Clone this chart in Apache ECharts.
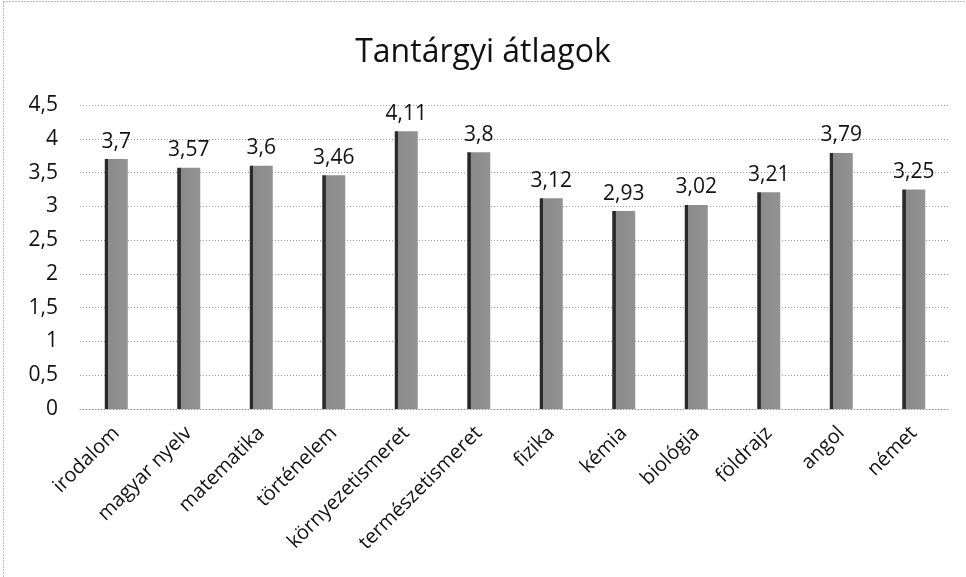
<!DOCTYPE html>
<html><head><meta charset="utf-8">
<script src="https://cdn.jsdelivr.net/npm/echarts@6/dist/echarts.min.js"></script>
<style>html,body{margin:0;padding:0;background:#fff}#c{width:966px;height:577px}</style>
</head><body><div id="c"></div>
<script>
const categories = ['irodalom','magyar nyelv','matematika','történelem','környezetismeret','természetismeret','fizika','kémia','biológia','földrajz','angol','német'];
const values = [3.7,3.57,3.6,3.46,4.11,3.8,3.12,2.93,3.02,3.21,3.79,3.25];
const titleText = 'Tantárgyi átlagok';
const fmt = v => String(v).replace('.', ',');
const chart = echarts.init(document.getElementById('c'));
chart.setOption({
  backgroundColor: '#fff',
  animation: false,
  title: { text: titleText, left: 'center', top: 32, textStyle: { fontFamily: 'Open Sans', fontSize: 32, fontWeight: 'normal', color: '#111' } },
  graphic: [{ type: 'rect', shape: { x: 3.5, y: 1.5, width: 1000, height: 600 }, style: { fill: 'none', stroke: '#777', lineWidth: 1, lineDash: [1, 2] } }],
  grid: { left: 80, right: 16, top: 105, bottom: 168 },
  xAxis: {
    type: 'category', data: categories,
    axisTick: { show: false },
    axisLine: { show: true, lineStyle: { color: '#999', type: [1, 2] } },
    axisLabel: { rotate: 45, interval: 0, fontFamily: 'Open Sans', fontSize: 20, color: '#111', margin: 21 }
  },
  yAxis: {
    type: 'value', min: 0, max: 4.5, interval: 0.5,
    axisLine: { show: false }, axisTick: { show: false },
    axisLabel: { fontFamily: 'Open Sans', fontSize: 21, color: '#111', margin: 22, formatter: v => fmt(v) },
    splitLine: { lineStyle: { color: '#999', type: [1, 2] } }
  },
  series: [{
    type: 'bar', data: values, barWidth: 23,
    itemStyle: {
      color: { type: 'linear', x: 0, y: 0, x2: 1, y2: 0, colorStops: [
        { offset: 0, color: '#2a2a2a' }, { offset: 0.14, color: '#2a2a2a' },
        { offset: 0.15, color: '#8a8a8a' }, { offset: 1, color: '#929292' } ] }
    },
    label: { show: true, position: 'top', distance: 7, fontFamily: 'Open Sans', fontSize: 21, color: '#111', formatter: p => fmt(p.value) }
  }]
});
</script></body></html>
